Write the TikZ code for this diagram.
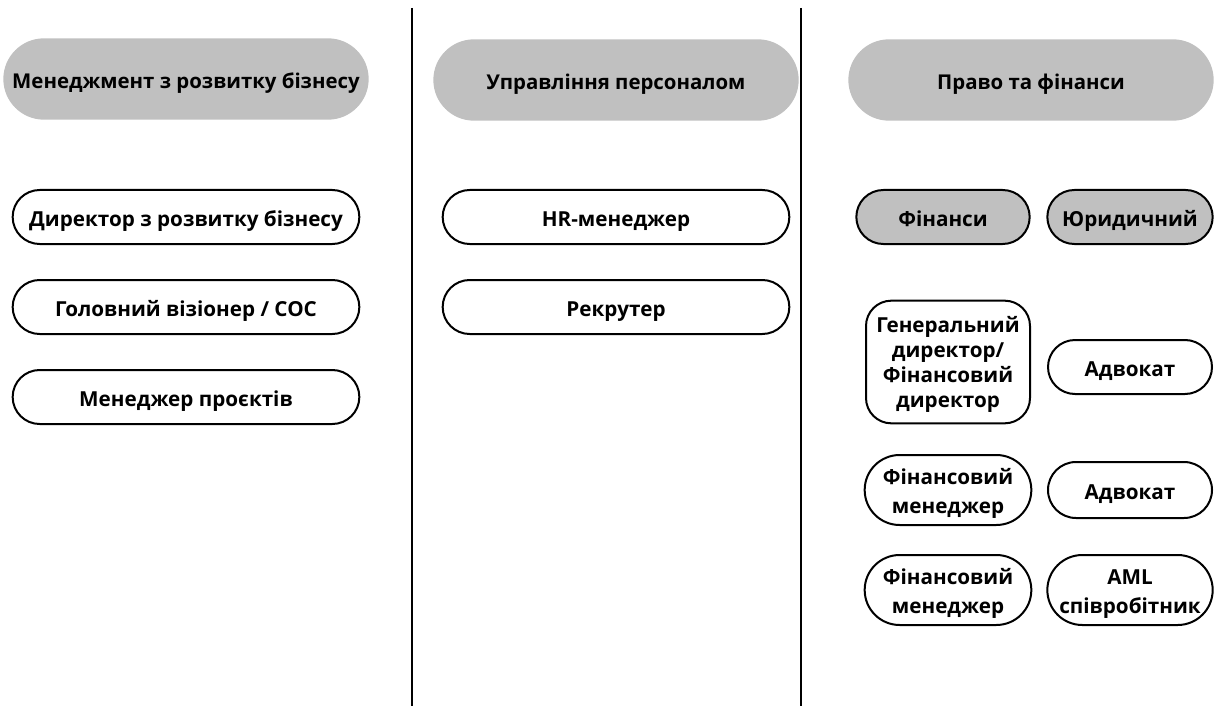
\documentclass[tikz,border=0pt]{standalone}
\usepackage{fontspec}
\setmainfont{Open Sans}[UprightFont=* Bold]
\usetikzlibrary{shapes.misc}
\definecolor{headgray}{HTML}{C0C0C0}
\begin{document}
\begin{tikzpicture}[x=0.75pt,y=-0.75pt,
  head/.style={rounded rectangle, fill=headgray, inner sep=0pt, minimum width=274pt, minimum height=61pt, text height=16pt, text depth=1.2pt, font=\fontsize{15.3}{19}\selectfont},
  role/.style={rounded rectangle, draw, line width=1.5pt, inner sep=0pt, align=center, minimum width=260pt, minimum height=40.5pt, text height=16pt, text depth=1.2pt, font=\fontsize{15.5}{21.75}\selectfont},
  twoline/.style={role, text height=34.5pt, text depth=0pt},
  dept/.style={role, fill=headgray, minimum width=128pt}]
\useasboundingbox (0,0) rectangle (1224,706);
\draw[line width=1.5pt] (412,8) -- (412,706);
\draw[line width=1.5pt] (801,8) -- (801,706);
\node[head] (hbiz) at (186,79) {Менеджмент з розвитку бізнесу};
\node[head] (hhr) at (616,80) {Управління персоналом};
\node[head] (hlaw) at (1031,80) {Право та фінанси};
\node[role] (bdir) at (186,217) {Директор з розвитку бізнесу};
\node[role] (bcoc) at (186,307) {Головний візіонер / COC};
\node[role] (bpm) at (186,397) {Менеджер проєктів};
\node[role] (hrm) at (616,217) {HR-менеджер};
\node[role] (hrec) at (616,307) {Рекрутер};
\node[dept, minimum width=130pt] (dfin) at (943,217) {Фінанси};
\node[dept, minimum width=124pt] (dlaw) at (1130,217) {Юридичний};
\node[twoline, rectangle, rounded corners=19pt, minimum width=123pt, minimum height=92pt, text height=67.8pt, font=\fontsize{15.5}{18.75}\selectfont] (fceo) at (948,362) {Генеральний\\директор/\\Фінансовий\\директор};
\node[role, minimum width=123pt] (ladv1) at (1130,367) {Адвокат};
\node[twoline, minimum width=125pt, minimum height=52.5pt] (fmgr1) at (948,490) {Фінансовий\\менеджер};
\node[role, minimum width=123pt, minimum height=42pt] (ladv2) at (1130,490) {Адвокат};
\node[twoline, minimum width=125pt, minimum height=52.5pt] (fmgr2) at (948,590) {Фінансовий\\менеджер};
\node[twoline, minimum width=124pt, minimum height=52.5pt] (laml) at (1130,590) {AML\\співробітник};
\end{tikzpicture}
\end{document}
